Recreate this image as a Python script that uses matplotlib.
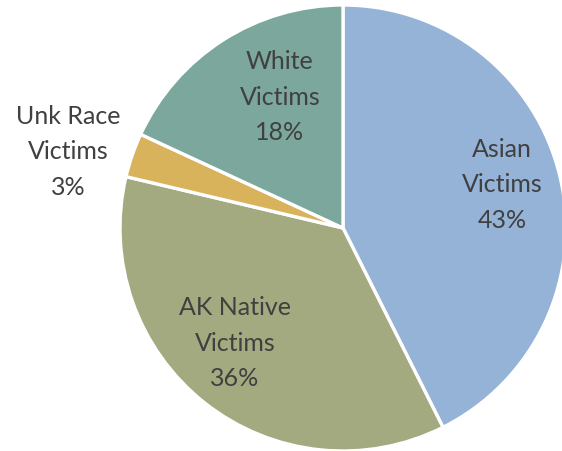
import matplotlib
matplotlib.use("Agg")
import matplotlib.pyplot as plt

# victim shares by race (percent)
labels = ["Asian\nVictims", "AK Native\nVictims", "Unk Race\nVictims", "White\nVictims"]
shares = [42.6, 36.1, 3.2, 18.1]
colors = ["#95B3D7", "#A4AA80", "#D9B25C", "#7BA79C"]
# where each label sits (data units, pie radius = 1)
label_xy = [(0.713, 0.193), (-0.484, -0.516), (-1.233, 0.341), (-0.283, 0.587)]

fig = plt.figure(figsize=(5.62, 4.51), dpi=100)
ax = fig.add_axes([0, 0, 1, 1])
ax.pie(shares, colors=colors, startangle=90, counterclock=False, radius=1,
       wedgeprops=dict(edgecolor="white", linewidth=2.4))
for lab, val, (x, y) in zip(labels, shares, label_xy):
    ax.text(x, y, "%s\n%d%%" % (lab, round(val)), ha="center", va="center",
            fontsize=18, color="#404040", family=["Lato", "DejaVu Sans"],
            linespacing=1.65)
ax.set_xlim(-343 / 223, (562 - 343) / 223)
ax.set_ylim(-1.0, 228 / 223)
ax.set_aspect("equal")
ax.axis("off")
fig.savefig("out.png", dpi=100)
